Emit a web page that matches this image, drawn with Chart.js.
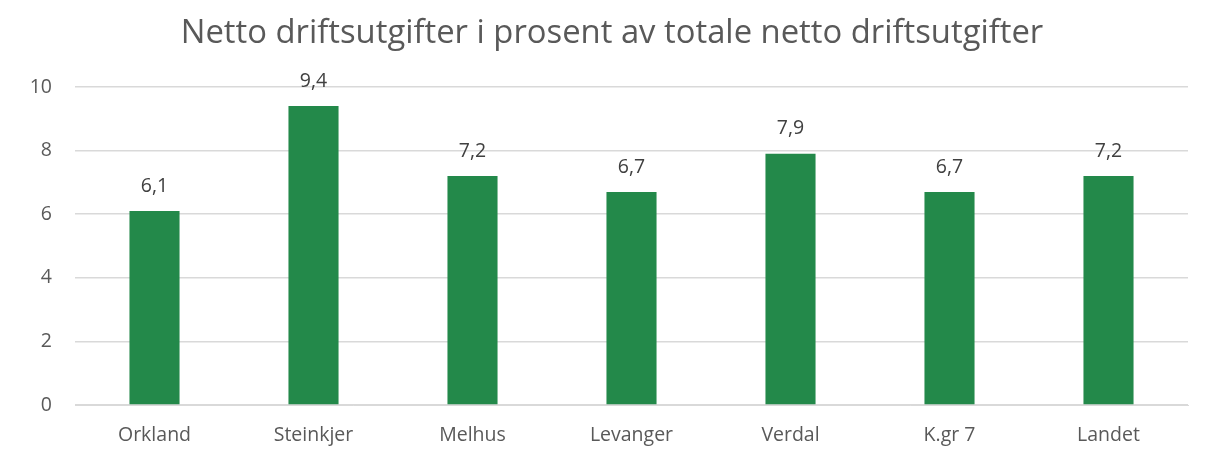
<!DOCTYPE html>
<html><head><meta charset="utf-8">
<script src="https://cdn.jsdelivr.net/npm/chart.js@4"></script>
<style>html,body{margin:0;padding:0;background:#fff}#wrap{width:1208px;height:459px}</style>
</head><body><div id="wrap"><canvas id="c" width="1208" height="459"></canvas></div>
<script>
const categories = ["Orkland","Steinkjer","Melhus","Levanger","Verdal","K.gr 7","Landet"];
const values = [6.1, 9.4, 7.2, 6.7, 7.9, 6.7, 7.2];
const yTicks = [0, 2, 4, 6, 8, 10];
const titleText = "Netto driftsutgifter i prosent av totale netto driftsutgifter";

const FONT = "'Open Sans', 'Noto Sans', sans-serif";
const TXT = "#595959";

const labelPlugin = {
  id: 'labels',
  afterDatasetsDraw(chart) {
    const ctx = chart.ctx;
    const meta = chart.getDatasetMeta(0);
    ctx.save();
    ctx.font = "19.5px " + FONT;
    ctx.fillStyle = "#404040";
    ctx.textAlign = "center";
    ctx.textBaseline = "middle";
    meta.data.forEach((bar, i) => {
      ctx.fillText(values[i].toFixed(1).replace('.', ','), bar.x, bar.y - 25);
    });
    ctx.font = "32.8px " + FONT;
    ctx.fillStyle = TXT;
    ctx.fillText(titleText, 612, 34);
    ctx.restore();
  }
};

new Chart(document.getElementById('c'), {
  type: 'bar',
  data: {
    labels: categories,
    datasets: [{
      data: values,
      backgroundColor: '#23894A',
      barPercentage: 0.315,
      categoryPercentage: 1.0
    }]
  },
  options: {
    responsive: false,
    animation: false,
    layout: { padding: { top: 87, right: 20, left: 0, bottom: 0 } },
    plugins: { legend: { display: false }, tooltip: { enabled: false } },
    scales: {
      x: {
        grid: { display: false, drawTicks: false },
        border: { display: true, color: '#d9d9d9', width: 1 },
        ticks: { color: TXT, font: { family: FONT, size: 19.5 }, padding: 19 },
        afterFit: s => { s.height = 54; }
      },
      y: {
        min: 0, max: 10,
        afterBuildTicks: s => { s.ticks = yTicks.map(v => ({ value: v })); },
        grid: { color: '#d9d9d9', lineWidth: 1.5, drawTicks: false },
        border: { display: false },
        ticks: { color: TXT, font: { family: FONT, size: 19.5 }, padding: 23 },
        afterFit: s => { s.width = 75; }
      }
    }
  },
  plugins: [labelPlugin]
});
</script></body></html>
